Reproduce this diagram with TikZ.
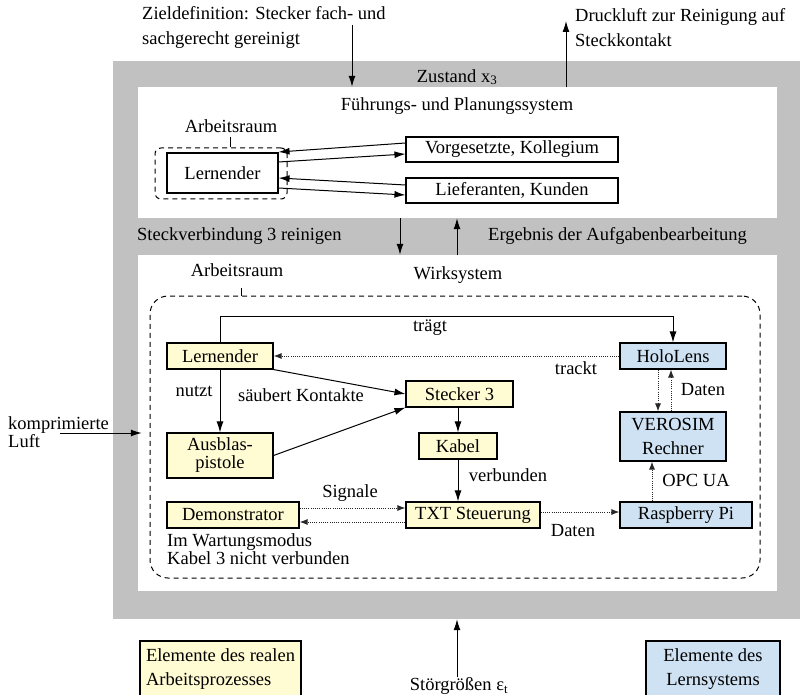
\documentclass[tikz,border=0pt]{standalone}
\usepackage{fontspec}
\setmainfont{Liberation Serif}
\usetikzlibrary{arrows.meta,calc}
\definecolor{greyband}{RGB}{193,193,193}
\definecolor{realyel}{RGB}{255,251,210}
\definecolor{lernblue}{RGB}{207,226,243}
\definecolor{dotcol}{RGB}{40,40,40}
\begin{document}
\begin{tikzpicture}[x=1pt,y=-1pt,
  every node/.style={font=\fontsize{18.5}{23}\selectfont, inner sep=0pt},
  box/.style={draw=black, line width=1.1pt, minimum height=26pt, anchor=center},
  ybox/.style={box, fill=realyel},
  bbox/.style={box, fill=lernblue},
  wbox/.style={box, fill=white},
  arr/.style={line width=1pt, -{Latex[length=11pt,width=7pt]}},
  darr/.style={line width=1pt, draw=dotcol, dash pattern=on 1.1pt off 1.1pt, -{Latex[length=8pt,width=6pt]}},
  dashbox/.style={draw, line width=1pt, dash pattern=on 5pt off 4pt},
  area/.style={draw=none, anchor=center, minimum width=639pt}]

\useasboundingbox (0,0) rectangle (800,695);

% frames
\node[fill=greyband, draw=none, minimum width=687pt, minimum height=558pt] (grey) at (456.5,340) {};
\node[area, fill=white, minimum height=131pt] (fps) at (457.5,152.5) {};
\node[area, fill=white, minimum height=336pt] (ws) at (457.5,423) {};

% top texts
\node[align=left, anchor=west, font=\fontsize{18.5}{25}\selectfont] (ziel) at (142,27.5) {Zieldefinition: Stecker fach- und\\sachgerecht gereinigt};
\node[align=left, anchor=west, font=\fontsize{18.5}{25}\selectfont] (druck) at (575,27.5) {Druckluft zur Reinigung auf\\Steckkontakt};
\node (zust) at (457,77) {Zustand x\textsubscript{3}};
\node (fpsl) at (457,106) {Führungs- und Planungssystem};

\coordinate (zstart) at (352,25);
\coordinate (dend) at (566,21);
\draw[arr] (zstart) -- (fps.north -| zstart);
\draw[arr] (fps.north -| dend) -- (dend);

% upper system
\node (arbUl) at (231,126) {Arbeitsraum};
\node[dashbox, rounded corners=6pt, minimum width=132pt, minimum height=51pt] (arbU) at (221,173.5) {};
\coordinate (tickU) at (230,0);
\draw[line width=1pt] (arbU.north -| tickU) -- ++(0,-10);
\node[wbox, minimum width=111pt, minimum height=40pt] (LernU) at (222.5,173) {Lernender};
\node[wbox, minimum width=212pt, minimum height=25pt] (Vorg) at (512,149.5) {Vorgesetzte, Kollegium};
\node[wbox, minimum width=212pt, minimum height=25pt] (Lief) at (512,190.5) {Lieferanten, Kunden};
\draw[arr] ([yshift=6.5pt]Vorg.west) -- ([yshift=21pt]LernU.east);
\draw[arr] ([yshift=11pt]LernU.east) -- ([yshift=-4.5pt]Vorg.west);
\draw[arr] ([yshift=5.5pt]Lief.west) -- ([yshift=-5pt]LernU.east);
\draw[arr] ([yshift=-15pt]LernU.east) -- ([yshift=-4.5pt]Lief.west);

% between
\node[anchor=west] (steckl) at (137,236) {Steckverbindung 3 reinigen};
\node[anchor=west] (ergl) at (488,236) {Ergebnis der Aufgabenbearbeitung};
\coordinate (xa) at (400,0);
\coordinate (xb) at (457,0);
\draw[arr] (fps.south -| xa) -- (ws.north -| xa);
\draw[arr] (ws.north -| xb) -- (fps.south -| xb);

% left input
\node[align=left, anchor=west, font=\fontsize{18.5}{18}\selectfont] (luft) at (8,432) {komprimierte\\Luft};
\coordinate (luftstart) at (60,433);
\draw[arr] (luftstart) -- ($(ws.west |- luftstart)+(4,0)$);

% lower system
\node (arbLl) at (237,270) {Arbeitsraum};
\node (wirk) at (458,275) {Wirksystem};
\node[dashbox, rounded corners=18pt, minimum width=610pt, minimum height=282pt] (arbL) at (455,437) {};
\coordinate (tickL) at (241,0);
\draw[line width=1pt] (arbL.north -| tickL) -- ++(0,-8);

\node[ybox, minimum width=106pt] (LernL) at (220,356) {Lernender};
\node[bbox, minimum width=106pt] (Holo) at (673,356) {HoloLens};
\node[ybox, minimum width=107pt] (Steck) at (459.5,394) {Stecker 3};
\node[ybox, minimum width=106pt, minimum height=45pt, align=center, font=\fontsize{18.5}{18}\selectfont] (Ausb) at (220,455.5) {Ausblas-\\pistole};
\node[ybox, minimum width=78pt] (Kabel) at (458,446) {Kabel};
\node[bbox, minimum width=106pt, minimum height=49pt, align=center, font=\fontsize{18.5}{24}\selectfont] (Vero) at (673,436.5) {VEROSIM\\Rechner};
\node[ybox, minimum width=132pt] (Demo) at (233,515) {Demonstrator};
\node[ybox, minimum width=134pt] (TXT) at (473,515) {TXT Steuerung};
\node[bbox, minimum width=132pt] (Rasp) at (686,515) {Raspberry Pi};

% lower connectors
\draw[arr] (LernL.north) -- ++(0,-26) -| (Holo.north);
\node (traegt) at (430,328) {trägt};
\draw[darr] (Holo.west) -- (LernL.east);
\node (trackt) at (576,368) {trackt};
\draw[arr] (LernL.south) -- (Ausb.north);
\node (nutzt) at (194,391) {nutzt};
\draw[arr] (LernL.south east) -- (Steck.west);
\node (saeub) at (301,395) {säubert Kontakte};
\draw[arr] (Ausb.east) -- (Steck.south west);
\draw[arr] (Kabel.north |- Steck.south) -- (Kabel.north);
\draw[arr] (Kabel.south) -- (Kabel.south |- TXT.north);
\node (verb) at (508,475) {verbunden};
\draw[darr] ([yshift=7pt]Demo.east) -- ([yshift=7pt]TXT.west);
\draw[darr] ([yshift=-7pt]TXT.west) -- ([yshift=-7pt]Demo.east);
\node (sig) at (350,493) {Signale};
\draw[darr] ([yshift=3pt]TXT.east) -- ([yshift=3pt]Rasp.west);
\node (daten1) at (573,531) {Daten};
\coordinate (xopc) at (652,0);
\draw[darr] (Rasp.north -| xopc) -- (Vero.south -| xopc);
\node (opc) at (696,480) {OPC UA};
\coordinate (xhd) at (658,0);
\coordinate (xhu) at (671,0);
\draw[darr] (Holo.south -| xhd) -- (Vero.north -| xhd);
\draw[darr] (Vero.north -| xhu) -- (Holo.south -| xhu);
\node (daten2) at (703,390) {Daten};
\node[align=left, anchor=west, font=\fontsize{18.5}{15.5}\selectfont] (wart) at (167,549.5) {Im Wartungsmodus\\Kabel 3 nicht verbunden};

% bottom
\node (stoer) at (459,686) {Störgrößen ε\textsubscript{t}};
\draw[arr] (stoer.north -| xb) -- (grey.south -| xb);
\node[box, fill=realyel, minimum width=161pt, minimum height=56pt, align=left, font=\fontsize{18.5}{24}\selectfont] (legY) at (220.5,669) {Elemente des realen\\Arbeitsprozesses};
\node[box, fill=lernblue, minimum width=134pt, minimum height=56pt, align=center, font=\fontsize{18.5}{24}\selectfont] (legB) at (713,669) {Elemente des\\Lernsystems};
\end{tikzpicture}
\end{document}
